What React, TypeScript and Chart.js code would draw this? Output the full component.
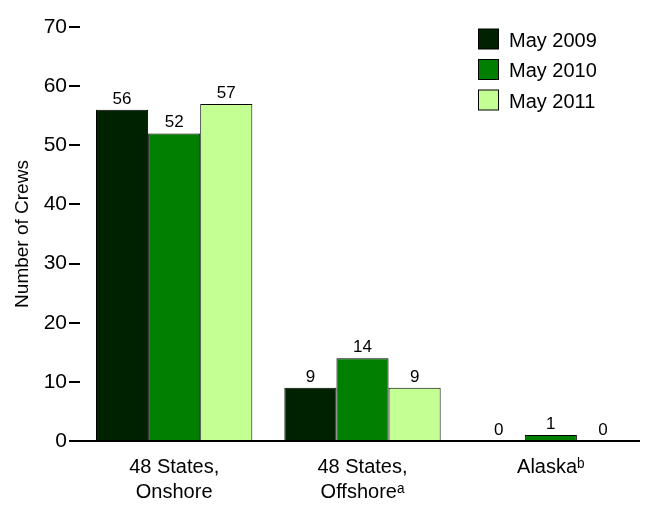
import React, { useEffect, useRef } from "react";
import { Chart, registerables } from "chart.js";

Chart.register(...registerables);

const categories: string[][] = [["48 States,", "Onshore"], ["48 States,", "Offshore\u1D43"], ["Alaska\u1D47"]];
const seriesNames = ["May 2009", "May 2010", "May 2011"];
const may2009 = [56, 9, 0];
const may2010 = [52, 14, 1];
const may2011 = [57, 9, 0];
const yTicks = [0, 10, 20, 30, 40, 50, 60, 70];
const colors = ["#002200", "#007f00", "#c4ff94"];

const FONT = "'Liberation Sans', Arial, sans-serif";

const valueLabels = {
  id: "valueLabels",
  afterDatasetsDraw(chart: any) {
    const ctx = chart.ctx;
    ctx.save();
    ctx.font = `17px ${FONT}`;
    ctx.fillStyle = "#000";
    ctx.textAlign = "center";
    ctx.textBaseline = "alphabetic";
    chart.data.datasets.forEach((ds: any, di: number) => {
      const meta = chart.getDatasetMeta(di);
      meta.data.forEach((bar: any, i: number) => {
        ctx.fillText(String(ds.data[i]), bar.x, bar.y - 6);
      });
    });
    ctx.restore();
  },
};

const axisLine = {
  id: "axisLine",
  afterDatasetsDraw(chart: any) {
    const ctx = chart.ctx;
    const y = chart.scales.y.getPixelForValue(0);
    ctx.save();
    ctx.strokeStyle = "#000";
    ctx.lineWidth = 2;
    ctx.beginPath();
    ctx.moveTo(chart.chartArea.left - 11, y);
    ctx.lineTo(chart.chartArea.right - 5, y);
    ctx.stroke();
    ctx.restore();
  },
};

const customLegend = {
  id: "customLegend",
  afterDraw(chart: any) {
    const ctx = chart.ctx;
    ctx.save();
    ctx.font = `20px ${FONT}`;
    ctx.textBaseline = "middle";
    ctx.textAlign = "left";
    seriesNames.forEach((name, i) => {
      const y = 39 + i * 30.5;
      ctx.fillStyle = colors[i];
      ctx.fillRect(478.5, y - 10, 20, 20);
      ctx.strokeStyle = "#000";
      ctx.lineWidth = 1;
      ctx.strokeRect(478.5, y - 10, 20, 20);
      ctx.fillStyle = "#000";
      ctx.fillText(name, 509, y + 2);
    });
    ctx.restore();
  },
};

export default function App() {
  const ref = useRef<HTMLCanvasElement | null>(null);
  useEffect(() => {
    document.body.style.margin = "0";
    const chart = new Chart(ref.current!, {
      type: "bar",
      data: {
        labels: categories as any,
        datasets: seriesNames.map((n, i) => ({
          label: n,
          data: [may2009, may2010, may2011][i],
          backgroundColor: colors[i],
          borderColor: "#000",
          borderWidth: 1,
          borderSkipped: "bottom" as const,
          categoryPercentage: 0.83,
          barPercentage: 1,
        })),
      },
      options: {
        animation: false,
        responsive: false,
        maintainAspectRatio: false,
        layout: { padding: { top: 27, right: 2, left: 0, bottom: 0 } },
        plugins: { legend: { display: false }, tooltip: { enabled: false } },
        scales: {
          x: {
            grid: { display: false },
            border: { display: false },
            ticks: { color: "#000", font: { family: FONT, size: 20, lineHeight: 1.25 }, padding: 6, maxRotation: 0 },
            afterFit(scale: any) { scale.height = 67; },
          },
          y: {
            min: 0,
            max: 70,
            afterBuildTicks(scale: any) { scale.ticks = yTicks.map((v) => ({ value: v })); },
            grid: { drawOnChartArea: false, drawTicks: true, tickLength: 11, color: "#000", lineWidth: 2 },
            border: { display: false },
            ticks: { color: "#000", font: { family: FONT, size: 21 }, padding: 2 },
            title: { display: true, text: "Number of Crews", color: "#000", font: { family: FONT, size: 19 }, padding: { top: 11, bottom: 0 } },
            afterFit(scale: any) { scale.width = 80; },
          },
        },
      },
      plugins: [valueLabels, axisLine, customLegend],
    });
    return () => chart.destroy();
  }, []);
  return (
    <div style={{ width: 647, height: 508 }}>
      <canvas ref={ref} width={647} height={508} style={{ width: 647, height: 508, display: "block" }} />
    </div>
  );
}
